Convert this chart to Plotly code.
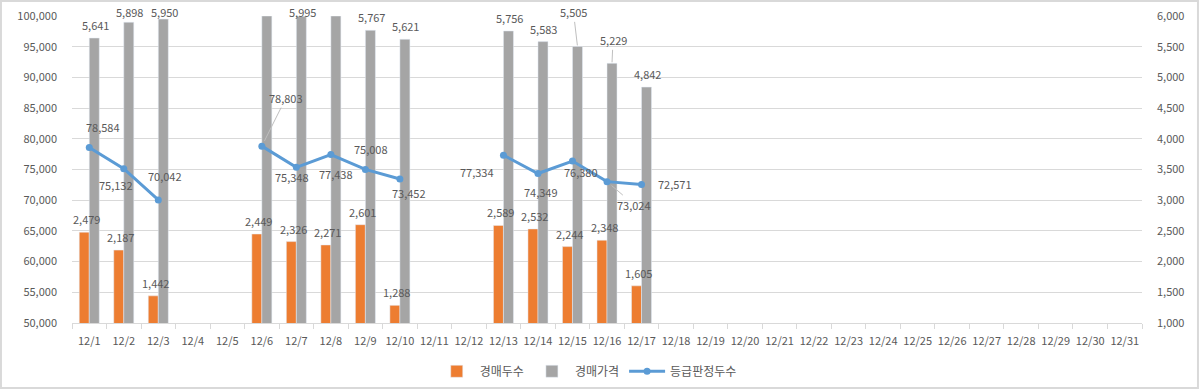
import plotly.graph_objects as go

categories = [f"12/{d}" for d in range(1, 32)]
auction_heads = [2479, 2187, 1442, None, None, 2449, 2326, 2271, 2601, 1288, None, None,
                 2589, 2532, 2244, 2348, 1605] + [None] * 14
auction_price = [5641, 5898, 5950, None, None, 6000, 5995, 6000, 5767, 5621, None, None,
                 5756, 5583, 5505, 5229, 4842] + [None] * 14
graded_heads = [78584, 75132, 70042, None, None, 78803, 75348, 77438, 75008, 73452, None, None,
                77334, 74349, 76380, 73024, 72571] + [None] * 14

ORANGE = "#ED7D31"
GRAY = "#A5A5A5"
BLUE = "#5B9BD5"
TXT = "#595959"
FONT = "Noto Sans CJK KR"
FS = 11

PLOT_TOP, PLOT_H = 16, 307
Y2_MIN, Y2_MAX = 1000, 6000

def fmt(v):
    return "" if v is None else f"{v:,}"

# label placement offsets (pixels): line labels
line_off = {0: (14, -20), 1: (-8, 16), 2: (7, -24), 5: (24, -48), 6: (-4, 10), 7: (5, 19),
            8: (6, -20), 9: (9, 14), 12: (-26, 17), 13: (3, 18), 14: (9, 11), 15: (27, 23),
            16: (33, 0)}
line_leader = {5, 15}
price_moved = {14: (-4, -34), 15: (1, -23)}

fig = go.Figure()
fig.add_trace(go.Bar(x=categories, y=auction_heads, name="경매두수", marker_color=ORANGE,
                     yaxis="y"))
fig.add_trace(go.Bar(x=categories, y=auction_price, name="경매가격", marker_color=GRAY,
                     yaxis="y"))
fig.add_trace(go.Scatter(x=categories, y=graded_heads, name="등급판정두수", mode="lines+markers",
                         line=dict(color=BLUE, width=3), marker=dict(size=7, color=BLUE),
                         connectgaps=False, yaxis="y2"))

def bar_label_shift(v):
    # keep labels inside the chart frame, as the original does near the top
    top_px = (Y2_MAX - v) / (Y2_MAX - Y2_MIN) * PLOT_H
    return min(3, top_px - 6)

lab_font = dict(color=TXT, size=FS, family=FONT)
annotations = []
for i, v in enumerate(auction_heads):
    if v is None:
        continue
    annotations.append(dict(x=categories[i], y=v, yref="y", text=fmt(v), showarrow=False,
                            xshift=-3, yshift=bar_label_shift(v), yanchor="bottom",
                            font=lab_font))
for i, v in enumerate(auction_price):
    if v is None or v >= 6000:
        continue
    if i in price_moved:
        dx, dy = price_moved[i]
        annotations.append(dict(x=categories[i], y=v, yref="y", text=fmt(v), showarrow=True,
                                ax=dx, ay=dy, xshift=5, arrowhead=0, arrowwidth=1,
                                arrowcolor="#BFBFBF", standoff=1, font=lab_font))
    else:
        annotations.append(dict(x=categories[i], y=v, yref="y", text=fmt(v), showarrow=False,
                                xshift=6, yshift=bar_label_shift(v), yanchor="bottom",
                                font=lab_font))
for i, v in enumerate(graded_heads):
    if v is None:
        continue
    dx, dy = line_off.get(i, (0, -18))
    if i in line_leader:
        annotations.append(dict(x=categories[i], y=v, yref="y2", text=fmt(v), showarrow=True,
                                ax=dx, ay=dy, arrowhead=0, arrowwidth=1, arrowcolor="#BFBFBF",
                                standoff=6, font=lab_font))
    else:
        annotations.append(dict(x=categories[i], y=v, yref="y2", text=fmt(v), showarrow=False,
                                xshift=dx, yshift=-dy, font=lab_font))

fig.update_layout(
    width=1200, height=391,
    margin=dict(l=72, r=58, t=PLOT_TOP, b=391 - PLOT_TOP - PLOT_H, autoexpand=False),
    paper_bgcolor="white", plot_bgcolor="white",
    barmode="group", bargap=0.42, bargroupgap=0,
    font=dict(family=FONT, color=TXT, size=FS),
    showlegend=True,
    legend=dict(orientation="h", x=0.482, xanchor="center", y=-0.11, yanchor="top",
                font=dict(size=12, color=TXT, family=FONT), itemwidth=36,
                traceorder="normal"),
    xaxis=dict(type="category", range=[-0.5, 30.5], showgrid=False,
               showline=True, linecolor="#D9D9D9", linewidth=1,
               ticks="outside", tickson="boundaries", ticklen=5, tickcolor="#D9D9D9",
               tickangle=0, automargin=False, ticklabelstandoff=8,
               tickfont=dict(size=11, color=TXT, family=FONT)),
    yaxis=dict(side="right", range=[Y2_MIN, Y2_MAX], dtick=500, tickformat=",",
               showgrid=True, gridcolor="#D9D9D9", gridwidth=1, zeroline=False,
               ticklabelstandoff=14, automargin=False,
               tickfont=dict(size=FS, color=TXT, family=FONT)),
    yaxis2=dict(side="left", overlaying="y", range=[50000, 100000], dtick=5000,
                tickformat=",", showgrid=False, zeroline=False, ticklabelstandoff=14,
                automargin=False,
                tickfont=dict(size=FS, color=TXT, family=FONT)),
    annotations=annotations,
    shapes=[dict(type="rect", xref="paper", yref="paper",
                 x0=-0.0664, x1=1.0523, y0=-0.2117, y1=1.0489,
                 line=dict(color="#D9D9D9", width=2), fillcolor="rgba(0,0,0,0)")],
)

fig.write_html("out.html", config={"displayModeBar": False},
               post_script="document.body.style.margin='0';document.body.style.overflow='hidden';")
